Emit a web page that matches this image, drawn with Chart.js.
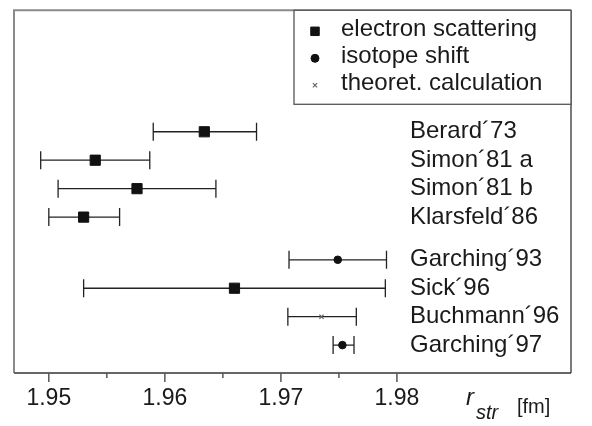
<!DOCTYPE html>
<html><head><meta charset="utf-8">
<script src="https://cdn.jsdelivr.net/npm/chart.js@4.4.1/dist/chart.umd.min.js"></script>
<style>html,body{margin:0;padding:0;background:#fff}</style>
</head><body>
<canvas id="c" width="592" height="426"></canvas>
<script>
// ---- data ----
const labels  = ["Berard´73","Simon´81 a","Simon´81 b","Klarsfeld´86","Garching´93","Sick´96","Buchmann´96","Garching´97"];
const rows    = [1, 2, 3, 4, 5.5, 6.5, 7.5, 8.5];
const values  = [1.9634, 1.9540, 1.9576, 1.9530, 1.9749, 1.9660, 1.9735, 1.9753];
const lower   = [1.9590, 1.9493, 1.9508, 1.9500, 1.9707, 1.9530, 1.9706, 1.9745];
const upper   = [1.9679, 1.9587, 1.9644, 1.9561, 1.9791, 1.9790, 1.9765, 1.9763];
const methods = ["electron scattering","electron scattering","electron scattering","electron scattering",
                 "isotope shift","electron scattering","theoret. calculation","isotope shift"];
const methodNames = ["electron scattering","isotope shift","theoret. calculation"];
const majorTicks = [1.95, 1.96, 1.97, 1.98];
const minorTicks = [1.955, 1.965, 1.975];

// ---- styles ----
const FONT = "'Liberation Sans', Arial, Helvetica, sans-serif";
const styles = {
  "electron scattering":  {pointStyle:'rect',     radius:7.2, legendRadius:6,   color:'#111', bw:1},
  "isotope shift":        {pointStyle:'circle',   radius:3.8, legendRadius:4,   color:'#111', bw:1},
  "theoret. calculation": {pointStyle:'crossRot', radius:3,   legendRadius:3,   color:'#666', bw:1.2}
};

const markerSets = methodNames.map(m => ({
  label:m,
  data: values.map((v,i)=>({x:v, y:rows[i], m:methods[i]})).filter(p=>p.m===m),
  pointStyle: styles[m].pointStyle,
  pointRadius: styles[m].radius,
  pointBackgroundColor: styles[m].color,
  pointBorderColor: styles[m].color,
  pointBorderWidth: styles[m].bw,
  showLine:false
}));

const errorSets = rows.map((r,i)=>({
  label:'err'+i,
  data:[{x:lower[i], y:r},{x:upper[i], y:r}],
  showLine:true,
  borderColor:'#222',
  borderWidth:1.3,
  pointStyle:'line',
  rotation:90,
  pointRadius:9,
  pointBorderWidth:1.3,
  pointBorderColor:'#222',
  fill:false
}));

const framePlugin = {
  id:'frame',
  beforeDatasetsDraw(chart){
    const {ctx, chartArea:a} = chart;
    ctx.save();
    ctx.lineWidth = 2;
    ctx.strokeStyle = '#8a8a8a';
    ctx.beginPath();
    ctx.moveTo(a.left, a.bottom); ctx.lineTo(a.left, a.top); ctx.lineTo(a.right, a.top);
    ctx.stroke();
    ctx.strokeStyle = '#666';
    ctx.beginPath();
    ctx.moveTo(a.left, a.bottom); ctx.lineTo(a.right, a.bottom);
    ctx.stroke();
    ctx.lineWidth = 1.3;
    ctx.strokeStyle = '#333';
    ctx.beginPath();
    ctx.moveTo(a.right, a.top); ctx.lineTo(a.right, a.bottom);
    ctx.stroke();
    // x tick marks
    const xs = chart.scales.x;
    ctx.strokeStyle = '#555';
    ctx.lineWidth = 1.5;
    xs.ticks.forEach(t=>{
      const isMajor = majorTicks.some(v=>Math.abs(v-t.value)<1e-6);
      const px = xs.getPixelForValue(t.value);
      ctx.beginPath();
      ctx.moveTo(px, a.bottom);
      ctx.lineTo(px, a.bottom + (isMajor ? 9 : 5));
      ctx.stroke();
    });
    ctx.restore();
  },
  afterDraw(chart){
    const {ctx, chartArea:a} = chart;
    ctx.save();
    // legend box
    const bx = a.right - 277, by = a.top, bw = 277, bh = 94;
    ctx.fillStyle = '#fff';
    ctx.fillRect(bx, by, bw, bh);
    ctx.strokeStyle = '#555';
    ctx.lineWidth = 1.3;
    ctx.strokeRect(bx, by, bw, bh);
    ctx.font = '24px ' + FONT;
    ctx.textBaseline = 'middle';
    ctx.textAlign = 'left';
    methodNames.forEach((m,j)=>{
      const y = by + 20 + j*27;
      const s = styles[m];
      ctx.fillStyle = s.color; ctx.strokeStyle = s.color;
      ctx.lineWidth = s.bw;
      Chart.helpers.drawPoint(ctx, {pointStyle:s.pointStyle, radius:s.legendRadius, rotation:0, borderWidth:s.bw}, bx + 21, y + 1);
      ctx.fillStyle = '#1a1a1a';
      ctx.fillText(m, bx + 47, y - 1);
    });
    // axis title
    ctx.fillStyle = '#1a1a1a';
    ctx.textBaseline = 'alphabetic';
    ctx.font = 'italic 24px ' + FONT;
    ctx.fillText('r', 466, 405);
    ctx.font = 'italic 20px ' + FONT;
    ctx.fillText('str', 476, 419);
    ctx.font = '20px ' + FONT;
    ctx.fillText('[fm]', 517, 413);
    ctx.restore();
  }
};

new Chart(document.getElementById('c'), {
  type:'scatter',
  data:{ datasets:[...markerSets, ...errorSets] },
  options:{
    responsive:false,
    animation:false,
    layout:{padding:{left:14, right:21, top:5, bottom:0}},
    plugins:{legend:{display:false}, tooltip:{enabled:false}},
    scales:{
      x:{
        type:'linear', min:1.947, max:1.995,
        afterBuildTicks(s){ s.ticks = [...majorTicks, ...minorTicks].sort((a,b)=>a-b).map(v=>({value:v})); },
        afterFit(s){ s.height = 53; s.paddingLeft = 0; s.paddingRight = 0; },
        grid:{display:true, drawOnChartArea:false, drawTicks:true, tickLength:9, color:'rgba(0,0,0,0)', tickColor:'rgba(0,0,0,0)'},
        border:{display:false},
        ticks:{
          autoSkip:false, maxRotation:0, padding:3,
          color:'#1a1a1a', font:{family:FONT, size:23},
          callback:(v)=> majorTicks.some(t=>Math.abs(t-v)<1e-6) ? v.toFixed(2) : ''
        }
      },
      y:{
        type:'linear', position:'left', reverse:true, min:-3.27, max:9.48,
        afterBuildTicks(s){ s.ticks = rows.map(v=>({value:v})); },
        afterFit(s){ s.width = 0; s.paddingTop = 0; s.paddingBottom = 0; },
        grid:{display:false, drawTicks:false},
        border:{display:false},
        ticks:{
          mirror:true, crossAlign:'near', padding:396, autoSkip:false,
          color:'#1a1a1a', font:{family:FONT, size:24},
          callback:(v)=> labels[rows.indexOf(v)]
        }
      }
    }
  },
  plugins:[framePlugin]
});
</script>
</body></html>
